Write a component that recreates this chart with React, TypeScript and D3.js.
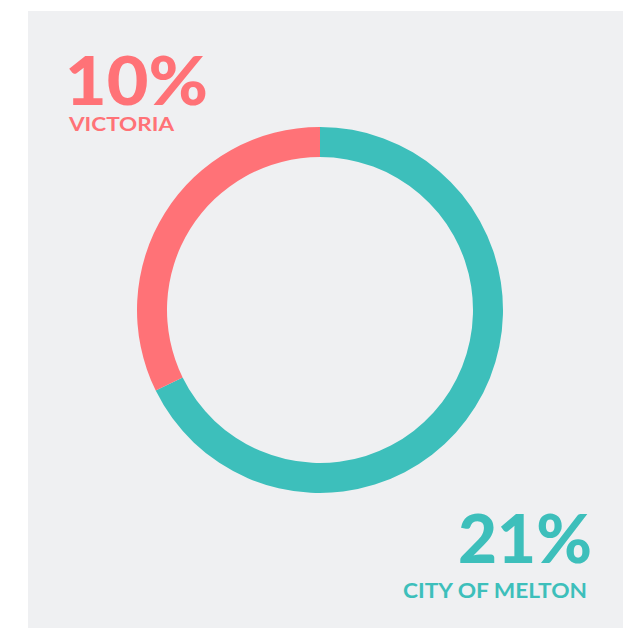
import React from 'react';
import * as d3 from 'd3';

const regions = ['CITY OF MELTON', 'VICTORIA'];
const shares = [21, 10];
const shareLabels = ['21%', '10%'];
const colors = ['#3DBFBB', '#FF7277'];

const App = () => {
  const width = 643;
  const height = 628;
  const cx = 320;
  const cy = 310;
  const outer = 183;
  const inner = 153;

  const pie = d3.pie<number>().sort(null).value((d) => d);
  const arcs = pie(shares);
  const arc = d3.arc<d3.PieArcDatum<number>>().innerRadius(inner).outerRadius(outer);

  const font = 'Lato, "Noto Sans", sans-serif';

  return (
    <svg
      width={width}
      height={height}
      style={{ position: 'absolute', left: 0, top: 0, background: '#fff' }}
    >
      <rect x={28} y={11} width={595} height={617} fill='#EFF0F2' />

      <g transform={`translate(${cx}, ${cy})`}>
        {arcs.map((a, i) => (
          <path key={i} d={arc(a) || ''} fill={colors[i]} />
        ))}
      </g>

      {/* victoria, top left */}
      <text
        x={65}
        y={105}
        fill={colors[1]}
        fontFamily={font}
        fontWeight={900}
        fontSize={66}
        textLength={143}
        lengthAdjust='spacingAndGlyphs'
      >
        {shareLabels[1]}
      </text>
      <text
        x={69}
        y={131}
        fill={colors[1]}
        fontFamily={font}
        fontWeight={700}
        fontSize={19.5}
        textLength={105}
        lengthAdjust='spacingAndGlyphs'
      >
        {regions[1]}
      </text>

      {/* melton, bottom right */}
      <text
        x={458}
        y={563}
        fill={colors[0]}
        fontFamily={font}
        fontWeight={900}
        fontSize={66}
        textLength={134}
        lengthAdjust='spacingAndGlyphs'
      >
        {shareLabels[0]}
      </text>
      <text
        x={403}
        y={598}
        fill={colors[0]}
        fontFamily={font}
        fontWeight={700}
        fontSize={20}
        textLength={184}
        lengthAdjust='spacingAndGlyphs'
      >
        {regions[0]}
      </text>
    </svg>
  );
};

export default App;
